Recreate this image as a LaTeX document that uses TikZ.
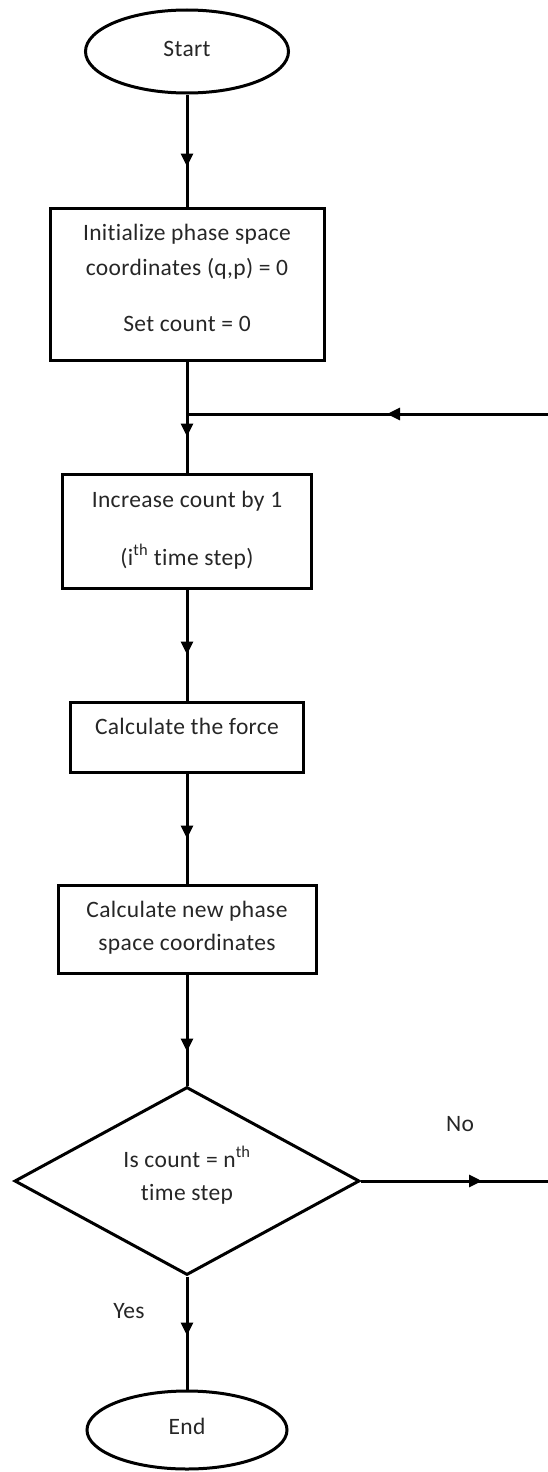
\documentclass[tikz,border=0pt]{standalone}
\usepackage{fontspec}
\setmainfont{Carlito}[Ligatures=NoCommon, LetterSpace=1.5]
\usetikzlibrary{shapes.geometric,arrows.meta,decorations.markings}
\begin{document}
\begin{tikzpicture}[x=1pt,y=-1pt,
  box/.style={draw, rectangle, inner sep=0pt, line width=3pt},
  oval/.style={draw, ellipse, inner sep=0pt, line width=3pt},
  dec/.style={draw, diamond, inner sep=0pt, line width=3pt},
  txt/.style={anchor=base, inner sep=0pt, font=\fontsize{23.5}{28}\selectfont, text=black!85},
  flow/.style={line width=3pt},
  midtip/.style={postaction={decorate,decoration={markings,
     mark=at position #1 with {\arrow{Triangle[length=13pt,width=12pt]}}}}}]
\useasboundingbox (0,0) rectangle (548,1472);

% shapes
\node[oval, minimum width=203pt, minimum height=83pt] (start) at (187,51.5) {};
\node[box, minimum width=274pt, minimum height=152pt] (init) at (187,284) {};
\node[box, minimum width=249pt, minimum height=114pt] (b2) at (187,531) {};
\node[box, minimum width=233pt, minimum height=70pt] (b3) at (187,737) {};
\node[box, minimum width=258pt, minimum height=88pt] (b4) at (187,929) {};
\node[dec, minimum width=345pt, minimum height=188pt] (cond) at (187,1181) {};
\node[oval, minimum width=200pt, minimum height=78pt] (end) at (187,1430) {};

% texts
\node[txt] (tstart) at (187,57) {Start};
\node[txt] (ti1) at (187,240) {Initialize phase space};
\node[txt] (ti2) at (187,275) {coordinates (q,p) = 0};
\node[txt] (ti3) at (187,331) {Set count = 0};
\node[txt] (tb21) at (187,507) {Increase count by 1};
\node[txt] (tb22) at (187,565) {(i\textsuperscript{th} time step)};
\node[txt] (tb3) at (187,734) {Calculate the force};
\node[txt] (tb41) at (187,917) {Calculate new phase};
\node[txt] (tb42) at (187,950) {space coordinates};
\node[txt] (tc1) at (187,1167) {Is count = n\textsuperscript{th}};
\node[txt] (tc2) at (187,1200) {time step};
\node[txt] (tend) at (187,1434) {End};
\node[txt] (tno) at (460,1131) {No};
\node[txt] (tyes) at (129,1318) {Yes};

% coordinates
\coordinate (join) at (187,414);
\coordinate (fb) at (548,414);
\coordinate (noend) at (548,1181);

% connectors
\draw[flow, midtip=72pt] (start) -- (init);
\draw[flow, midtip=75pt] (init) -- (b2);
\draw[flow, midtip=161pt] (fb) -- (join);
\draw[flow, midtip=65pt] (b2) -- (b3);
\draw[flow, midtip=65pt] (b3) -- (b4);
\draw[flow, midtip=77pt] (b4) -- (cond);
\draw[flow, midtip=121pt] (cond.east) -- (noend);
\draw[flow, midtip=59pt] (cond.south) -- (end.north);
\end{tikzpicture}
\end{document}
